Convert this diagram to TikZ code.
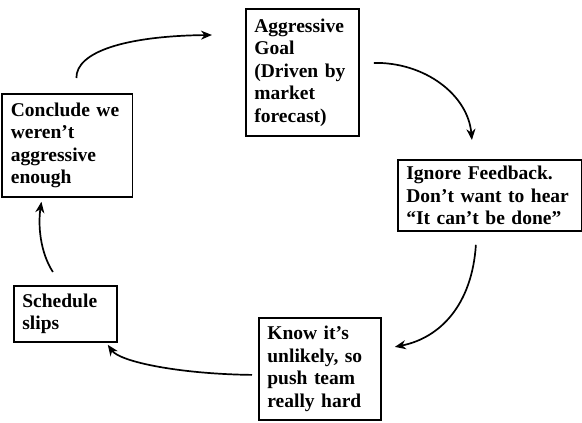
\documentclass[tikz,border=0pt]{standalone}
\usepackage{fontspec}
\setmainfont{Liberation Serif}
\usetikzlibrary{arrows.meta}
\begin{document}
\begin{tikzpicture}[x=1pt, y=-1pt,
  box/.style={draw, line width=1.8pt, anchor=north west, align=left,
    inner xsep=8.5pt, inner ysep=0pt,
    font=\bfseries\fontsize{19.5}{22.5}\selectfont},
  flow/.style={line width=1.7pt,
    -{Stealth[length=11pt, width=9pt, inset=3.5pt]}}]
\useasboundingbox (0,0) rectangle (582,423);

% the five stages of the loop
\node[box, text width=96pt, minimum height=127pt] (goal) at (245,8)
  {Aggressive\\Goal\\(Driven by\\market\\forecast)};
\node[box, text width=167pt, minimum height=71pt] (ign) at (397,159)
  {Ignore Feedback.\\Don’t want to hear\\“It can’t be done”};
\node[box, text width=105pt, minimum height=102pt] (know) at (258,317)
  {Know it’s\\unlikely, so\\push team\\really hard};
\node[box, text width=86pt, minimum height=56pt] (sched) at (13,285)
  {Schedule\\slips};
\node[box, text width=113pt, minimum height=103pt] (conc) at (1.5,93)
  {Conclude we\\weren’t\\aggressive\\enough};

% curved arrows joining the stages
\draw[flow] ([shift={(14,-9.5)}]goal.east)
  .. controls (425,62) and (468,95) .. ([shift={(-18,-19)}]ign.north);
\draw[flow] ([shift={(-14,13)}]ign.south)
  .. controls (472,305) and (440,338) .. ([shift={(13,-22)}]know.east);
\draw[flow] ([shift={(-6,6)}]know.west)
  .. controls (180,374) and (120,362) .. ([shift={(-10,2)}]sched.south east);
\draw[flow] ([shift={(-12.5,-13)}]sched.north)
  .. controls (40,252) and (38,225) .. ([shift={(-26,4)}]conc.south);
\draw[flow] ([shift={(9,-15)}]conc.north)
  .. controls (76,52) and (125,36) .. ([shift={(-33,27)}]goal.north west);
\end{tikzpicture}
\end{document}
